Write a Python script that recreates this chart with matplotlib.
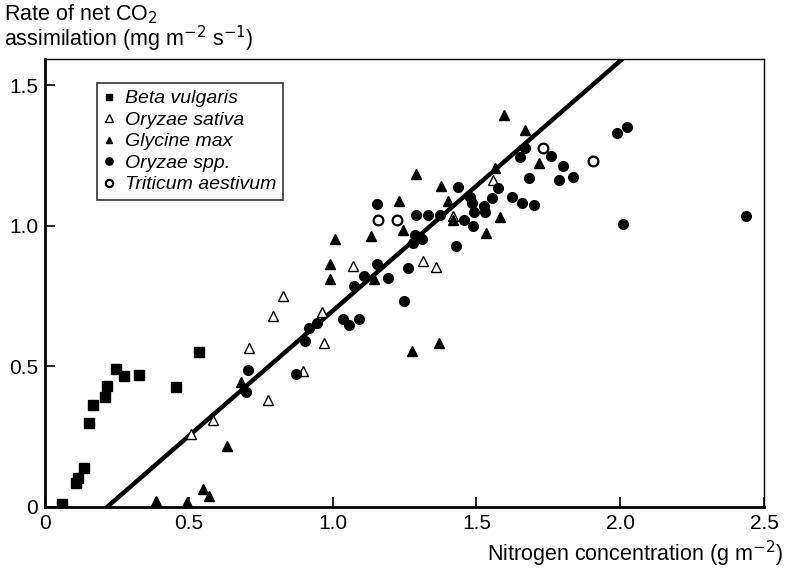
"""Net CO2 assimilation rate vs leaf nitrogen concentration, five species."""

import numpy as np
import matplotlib
matplotlib.use("Agg")
import matplotlib.pyplot as plt

plt.rcParams["font.family"] = ["Liberation Sans", "DejaVu Sans"]

# Beta vulgaris (filled squares)
beta_n = [0.06, 0.108, 0.114, 0.135, 0.151, 0.168, 0.209, 0.217, 0.247, 0.274, 0.325, 0.455, 0.534]
beta_a = [0.01, 0.085, 0.104, 0.14, 0.298, 0.363, 0.39, 0.432, 0.491, 0.466, 0.469, 0.425, 0.553]

# Oryzae sativa (open triangles)
sativa_n = [0.507, 0.583, 0.775, 0.709, 0.793, 0.827, 0.898, 0.971, 0.964, 1.07,
            1.313, 1.36, 1.419, 1.559]
sativa_a = [0.26, 0.31, 0.381, 0.565, 0.68, 0.751, 0.484, 0.582, 0.693, 0.858,
            0.875, 0.855, 1.037, 1.164]

# Glycine max (filled triangles)
glycine_n = [0.384, 0.494, 0.548, 0.57, 0.632, 0.68, 0.991, 0.991, 1.009, 1.132,
             1.144, 1.231, 1.246, 1.29, 1.377, 1.40, 1.42, 1.533, 1.565, 1.582,
             1.596, 1.669, 1.719, 1.275, 1.368]
glycine_a = [0.021, 0.019, 0.063, 0.037, 0.215, 0.444, 0.811, 0.865, 0.952, 0.964,
             0.812, 1.089, 0.986, 1.185, 1.143, 1.089, 1.02, 0.974, 1.205, 1.031,
             1.395, 1.342, 1.223, 0.556, 0.585]

# Oryzae spp. (filled circles)
spp_n = [0.698, 0.707, 0.873, 0.904, 0.919, 0.945, 1.035, 1.055, 1.075, 1.092,
         1.109, 1.153, 1.155, 1.194, 1.249, 1.261, 1.28, 1.287, 1.31, 1.29,
         1.333, 1.373, 1.428, 1.435, 1.455, 1.478, 1.483, 1.487, 1.492, 1.526,
         1.53, 1.554, 1.576, 1.623, 1.652, 1.658, 1.669, 1.684, 1.70, 1.759,
         1.788, 1.802, 1.835, 1.988, 2.022, 2.009, 2.436]
spp_a = [0.408, 0.488, 0.472, 0.591, 0.638, 0.656, 0.668, 0.648, 0.786, 0.668,
         0.82, 1.078, 0.865, 0.814, 0.734, 0.849, 0.94, 0.968, 0.953, 1.039,
         1.039, 1.039, 0.929, 1.138, 1.021, 1.104, 1.081, 1.0, 1.051, 1.071,
         1.051, 1.101, 1.134, 1.102, 1.244, 1.083, 1.279, 1.17, 1.075, 1.249,
         1.164, 1.213, 1.175, 1.332, 1.353, 1.006, 1.036]

# Triticum aestivum (open circles)
triticum_n = [1.159, 1.223, 1.73, 1.904]
triticum_a = [1.021, 1.021, 1.279, 1.231]

# regression line: x-intercept and slope
line_x0 = 0.216
line_slope = 0.89

x_ticks = [0, 0.5, 1.0, 1.5, 2.0, 2.5]
x_tick_labels = ["0", "0.5", "1.0", "1.5", "2.0", "2.5"]
y_ticks = [0, 0.5, 1.0, 1.5]
y_tick_labels = ["0", "0.5", "1.0", "1.5"]

fig = plt.figure(figsize=(7.91, 5.76), dpi=100)
ax = fig.add_axes([0.057, 0.12, 0.909, 0.778])

ms = 7
ax.plot(beta_n, beta_a, "s", color="black", ms=6.5, ls="none", label="Beta vulgaris")
ax.plot(sativa_n, sativa_a, "^", mfc="white", mec="black", mew=1.0, ms=ms, ls="none",
        label="Oryzae sativa")
ax.plot(glycine_n, glycine_a, "^", color="black", ms=6.5, ls="none", label="Glycine max")
ax.plot(spp_n, spp_a, "o", color="black", ms=ms, ls="none", label="Oryzae spp.")
ax.plot(triticum_n, triticum_a, "o", mfc="white", mec="black", mew=1.6, ms=ms, ls="none",
        label="Triticum aestivum")

ax.axline((line_x0, 0), slope=line_slope, color="black", lw=3.2, zorder=1)

ax.set_xlim(0, 2.5)
ax.set_ylim(0, 1.595)
ax.set_xticks(x_ticks, x_tick_labels)
ax.set_yticks(y_ticks, y_tick_labels)
ax.tick_params(direction="in", length=7, width=1.2, labelsize=15, pad=5)
for side in ["left", "bottom"]:
    ax.spines[side].set_linewidth(2.0)
for side in ["top", "right"]:
    ax.spines[side].set_linewidth(1.0)

leg = ax.legend(loc="upper left", bbox_to_anchor=(0.072, 0.946), borderaxespad=0,
                frameon=True, fancybox=False, edgecolor="black", handlelength=0.5,
                handletextpad=0.6, borderpad=0.35, labelspacing=0.2,
                prop={"style": "italic", "size": 14}, markerscale=0.75)
leg.get_frame().set_linewidth(1.2)

fig.text(0.005, 0.995, "Rate of net CO$_2$\nassimilation (mg m$^{-2}$ s$^{-1}$)",
         fontsize=15.5, ha="left", va="top", linespacing=0.9)
fig.text(0.99, 0.012, "Nitrogen concentration (g m$^{-2}$)", fontsize=15.5,
         ha="right", va="bottom")

fig.savefig("out.png", dpi=100)
